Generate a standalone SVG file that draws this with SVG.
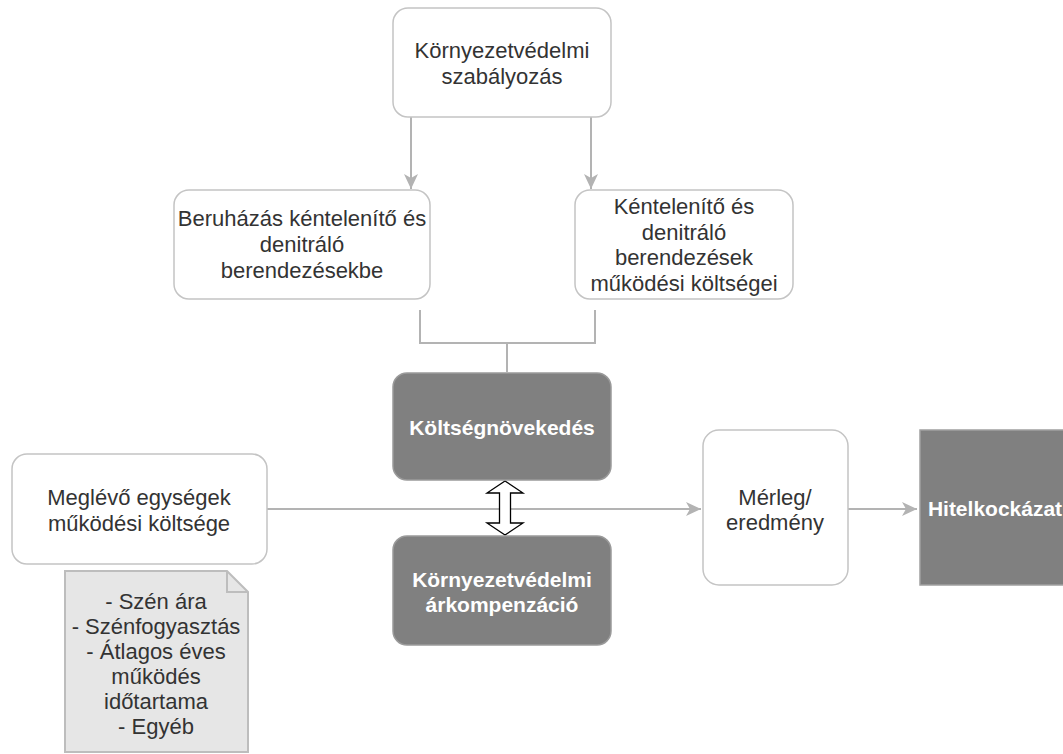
<svg xmlns="http://www.w3.org/2000/svg" width="1063" height="754" viewBox="0 0 1063 754">
<defs>
<marker id="arr" markerUnits="userSpaceOnUse" markerWidth="16" markerHeight="14" refX="15" refY="7" orient="auto">
<path d="M0,0 L15,7 L0,14 L4,7 Z" fill="#b3b3b3"/>
</marker>
<style>
.box{fill:#ffffff;stroke:#c4c4c4;stroke-width:1.5}
.dark{fill:#808080;stroke:#9a9a9a;stroke-width:1.5}
.t{font-family:"Liberation Sans",Arial,sans-serif;font-size:22px;fill:#333333;text-anchor:middle}
.tb{font-family:"Liberation Sans",Arial,sans-serif;font-size:21px;font-weight:bold;fill:#ffffff;text-anchor:middle}
.ln{fill:none;stroke:#b3b3b3;stroke-width:2}
.note{fill:#e6e6e6;stroke:#bdbdbd;stroke-width:2}
</style>
</defs>
<rect width="1063" height="754" fill="#ffffff"/>
<g id="connectors">
<path class="ln" d="M411,117 V189" marker-end="url(#arr)"/>
<path class="ln" d="M591,117 V189" marker-end="url(#arr)"/>
<path class="ln" d="M420,310 V343 H595 V310 M507,343 V372"/>
<path class="ln" d="M267,509 H701" marker-end="url(#arr)"/>
<path class="ln" d="M848,509 H917" marker-end="url(#arr)"/>
<path d="M505,481 L523,493 L510.5,493 L510.5,523 L523,523 L505,535 L487,523 L499.5,523 L499.5,493 L487,493 Z" fill="#ffffff" stroke="#000000" stroke-width="1.3"/>
</g>
<g id="n-regulation">
<rect class="box" x="393" y="8" width="218" height="109" rx="15"/>
<text class="t" x="502" y="58">Környezetvédelmi</text>
<text class="t" x="502" y="84">szabályozás</text>
</g>
<g id="n-investment">
<rect class="box" x="174" y="190" width="256" height="109" rx="15"/>
<text class="t" x="302" y="226">Beruházás kéntelenítő és</text>
<text class="t" x="302" y="252">denitráló</text>
<text class="t" x="302" y="278">berendezésekbe</text>
</g>
<g id="n-opcost">
<rect class="box" x="575" y="190" width="218" height="109" rx="15"/>
<text class="t" x="684" y="214">Kéntelenítő és</text>
<text class="t" x="684" y="240">denitráló</text>
<text class="t" x="684" y="265">berendezések</text>
<text class="t" x="684" y="291">működési költségei</text>
</g>
<g id="n-costincrease">
<rect class="dark" x="393" y="373" width="218" height="107" rx="14"/>
<text class="tb" x="502" y="435">Költségnövekedés</text>
</g>
<g id="n-compensation">
<rect class="dark" x="393" y="536" width="218" height="109" rx="14"/>
<text class="tb" x="502" y="587">Környezetvédelmi</text>
<text class="tb" x="502" y="612">árkompenzáció</text>
</g>
<g id="n-existing">
<rect class="box" x="12" y="454" width="255" height="110" rx="15"/>
<text class="t" x="139" y="505">Meglévő egységek</text>
<text class="t" x="139" y="531">működési költsége</text>
</g>
<g id="n-note">
<path class="note" d="M65,571 H227 L248,592 V752 H65 Z"/>
<path d="M227,571 V592 H248" fill="none" stroke="#bdbdbd" stroke-width="2"/>
<text class="t" x="156" y="609">- Szén ára</text>
<text class="t" x="156" y="634">- Szénfogyasztás</text>
<text class="t" x="156" y="659">- Átlagos éves</text>
<text class="t" x="156" y="684">működés</text>
<text class="t" x="156" y="709">időtartama</text>
<text class="t" x="156" y="734">- Egyéb</text>
</g>
<g id="n-balance">
<rect class="box" x="703" y="430" width="145" height="155" rx="16"/>
<text class="t" x="775" y="505">Mérleg/</text>
<text class="t" x="775" y="530">eredmény</text>
</g>
<g id="n-creditrisk">
<rect x="920" y="430" width="150" height="155" fill="#808080" stroke="#a0a0a0" stroke-width="1.5"/>
<text class="tb" x="995" y="516">Hitelkockázat</text>
</g>
</svg>
